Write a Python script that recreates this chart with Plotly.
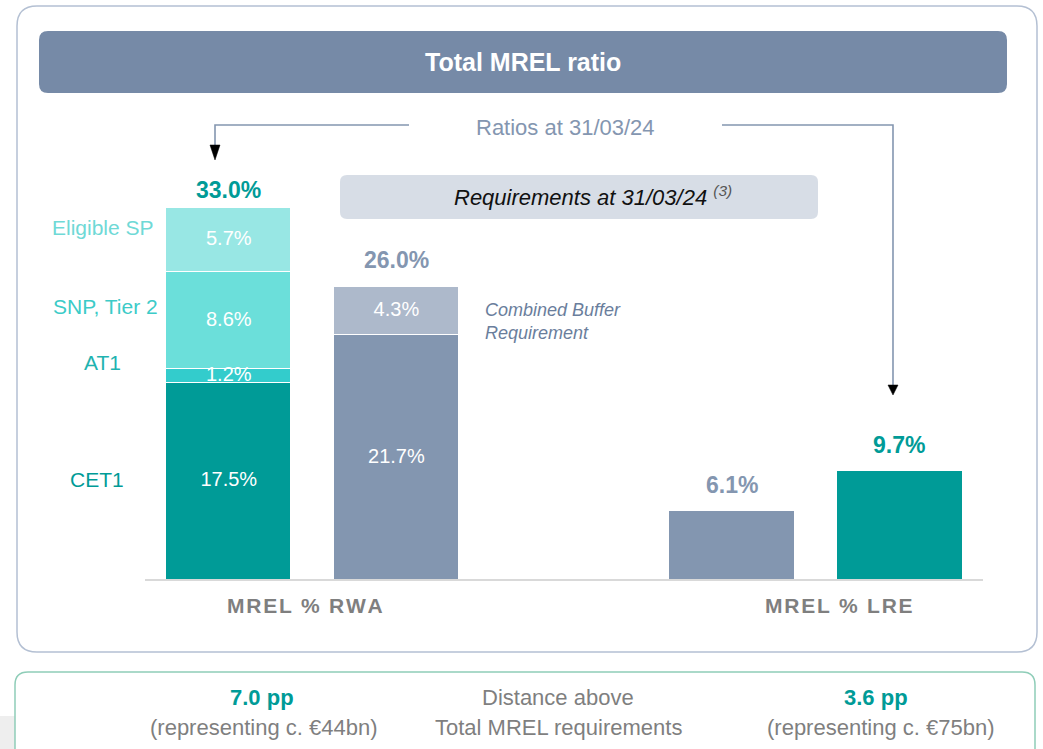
import plotly.graph_objects as go

# ---------------- data ----------------
rwa_components = ["CET1", "AT1", "SNP, Tier 2", "Eligible SP"]
rwa_values = [17.5, 1.2, 8.6, 5.7]
rwa_total = 33.0
req_components = ["Requirement", "Combined Buffer Requirement"]
req_values = [21.7, 4.3]
req_total = 26.0
lre_req = 6.1
lre_ratio = 9.7
bar_positions = [0, 1, 3, 4]
category_labels = ["MREL % RWA", "MREL % LRE"]

W, H = 1043, 749
FONT = "Liberation Sans, Arial, sans-serif"
TEAL = "#009B97"
AT1_C = "#33CCCC"
SNP_C = "#6BDFDA"
SP_C = "#98E7E4"
GREY_BAR = "#8396B0"
BUF_C = "#ADB9CB"
GREY_TXT = "#7F7F7F"
SLATE = "#8496B0"


def px(x):
    return x / W


def py(y):
    return 1 - y / H


def rrect(x0, y0, x1, y1, r):
    pts = [
        ("M", [(x0 + r, y0)]), ("L", [(x1 - r, y0)]), ("Q", [(x1, y0), (x1, y0 + r)]),
        ("L", [(x1, y1 - r)]), ("Q", [(x1, y1), (x1 - r, y1)]), ("L", [(x0 + r, y1)]),
        ("Q", [(x0, y1), (x0, y1 - r)]), ("L", [(x0, y0 + r)]), ("Q", [(x0, y0), (x0 + r, y0)]),
    ]
    s = ""
    for cmd, ps in pts:
        s += cmd + " " + " ".join(f"{px(a):.5f},{py(b):.5f}" for a, b in ps) + " "
    return s + "Z"


def spaced(t):
    return "\u200a".join(list(t))


fig = go.Figure()

bw = 0.744
colors_rwa = [TEAL, AT1_C, SNP_C, SP_C]
for name, v, c in zip(rwa_components, rwa_values, colors_rwa):
    fig.add_trace(go.Bar(x=[bar_positions[0]], y=[v], name=name, width=bw,
                         marker=dict(color=c, line=dict(color="white", width=1.5))))
for name, v, c in zip(req_components, req_values, [GREY_BAR, BUF_C]):
    fig.add_trace(go.Bar(x=[bar_positions[1]], y=[v], name=name, width=bw,
                         marker=dict(color=c, line=dict(color="white", width=1.5))))
fig.add_trace(go.Bar(x=[bar_positions[2]], y=[lre_req], width=bw,
                     marker=dict(color=GREY_BAR, line=dict(width=0))))
fig.add_trace(go.Bar(x=[bar_positions[3]], y=[lre_ratio], width=bw,
                     marker=dict(color=TEAL, line=dict(width=0))))

# segment labels at segment centres
sx, sy, st = [], [], []
cum = 0
for v in rwa_values:
    sx.append(bar_positions[0]); sy.append(cum + v / 2); st.append(f"{v:.1f}%")
    cum += v
cum = 0
for v in req_values:
    sx.append(bar_positions[1]); sy.append(cum + v / 2); st.append(f"{v:.1f}%")
    cum += v
fig.add_trace(go.Scatter(x=sx, y=sy, text=st, mode="text",
                         textfont=dict(family=FONT, size=20, color="white"),
                         hoverinfo="skip"))

ann = []
# totals above bars
for xv, yv, col, shift in [(bar_positions[0], rwa_total, TEAL, 18),
                           (bar_positions[1], req_total, SLATE, 27),
                           (bar_positions[2], lre_req, SLATE, 26),
                           (bar_positions[3], lre_ratio, TEAL, 26)]:
    ann.append(dict(x=xv, y=yv, xref="x", yref="y", text=f"<b>{yv:.1f}%</b>", showarrow=False,
                    yanchor="middle", yshift=shift, font=dict(family=FONT, size=23, color=col)))


def ptext(x, y, text, size, color, xanchor="center", align="center"):
    ann.append(dict(x=px(x), y=py(y), xref="paper", yref="paper", text=text, showarrow=False,
                    xanchor=xanchor, yanchor="middle", align=align,
                    font=dict(family=FONT, size=size, color=color)))


ptext(523, 62, "<b>Total MREL ratio</b>", 25, "white")
ptext(565, 127, "Ratios at 31/03/24", 22, SLATE)
ptext(593, 196, "<i>Requirements at 31/03/24 <span style='color:#555555'><sup>(3)</sup></span></i>", 22, "#111111")
ptext(483, 321, "<i>Combined Buffer<br>Requirement</i>", 18, "#6A7E9C", xanchor="left", align="left")

# side labels
ptext(103, 227, "Eligible SP", 21, "#6FD9D6")
ptext(105, 306, "SNP, Tier 2", 21, "#3CCBC8")
ptext(102, 362, "AT1", 21, "#1FB3B0")
ptext(97, 479, "CET1", 21, TEAL)

# category labels
ptext(305, 605, "<b>" + spaced(category_labels[0]) + "</b>", 21, GREY_TXT)
ptext(839, 605, "<b>" + spaced(category_labels[1]) + "</b>", 21, GREY_TXT)

# bottom box texts
ptext(262, 697, "<b>7.0 pp</b>", 22, TEAL)
ptext(263, 727, "(representing c. €44bn)", 22, GREY_TXT)
ptext(558, 697, "Distance above", 22, GREY_TXT)
ptext(558, 727, "Total MREL requirements", 22, GREY_TXT)
ptext(876, 697, "<b>3.6 pp</b>", 22, TEAL)
ptext(880, 727, "(representing c. €75bn)", 22, GREY_TXT)

shapes = []
# grey patch bottom left
shapes.append(dict(type="rect", xref="paper", yref="paper", x0=0, x1=px(30), y0=0, y1=py(716),
                   fillcolor="#EEEEEE", line=dict(width=0), layer="below"))
# outer box
shapes.append(dict(type="path", xref="paper", yref="paper", path=rrect(17, 6, 1037, 652, 20),
                   fillcolor="white", line=dict(color="#B4C0D3", width=1.5), layer="below"))
# title bar
shapes.append(dict(type="path", xref="paper", yref="paper", path=rrect(39, 31, 1007, 93, 9),
                   fillcolor="#768AA7", line=dict(width=0), layer="below"))
# requirements box
shapes.append(dict(type="path", xref="paper", yref="paper", path=rrect(340, 175, 818, 219, 7),
                   fillcolor="#D7DDE6", line=dict(width=0), layer="below"))
# bottom box
shapes.append(dict(type="path", xref="paper", yref="paper", path=rrect(15, 672, 1035, 790, 13),
                   fillcolor="white", line=dict(color="#8FCDB8", width=1.5), layer="below"))
# baseline
shapes.append(dict(type="line", xref="paper", yref="paper", x0=px(145), x1=px(983), y0=py(580), y1=py(580),
                   line=dict(color="#D9D9D9", width=2)))
# arrows
for pts in [[(409, 125), (215, 125), (215, 147)], [(722, 125), (893, 125), (893, 386)]]:
    path = "M " + " L ".join(f"{px(a):.5f},{py(b):.5f}" for a, b in pts)
    shapes.append(dict(type="path", xref="paper", yref="paper", path=path,
                       line=dict(color=SLATE, width=1.6)))
for tx, ty, hw, hh in [(215, 160, 5, 15), (893, 395, 5, 10)]:
    path = (f"M {px(tx - hw):.5f},{py(ty - hh):.5f} L {px(tx + hw):.5f},{py(ty - hh):.5f} "
            f"L {px(tx):.5f},{py(ty):.5f} Z")
    shapes.append(dict(type="path", xref="paper", yref="paper", path=path,
                       fillcolor="black", line=dict(color="black", width=0.5)))

top_px = 130
yr = (580 - top_px) / 11.27
fig.update_layout(
    width=W, height=H, margin=dict(l=0, r=0, t=0, b=0),
    paper_bgcolor="white", plot_bgcolor="rgba(0,0,0,0)",
    barmode="stack", bargap=0, showlegend=False,
    xaxis=dict(domain=[px(145), px(983)], range=[-0.5, 4.5], visible=False, fixedrange=True),
    yaxis=dict(domain=[py(580), py(top_px)], range=[0, yr], visible=False, fixedrange=True),
    annotations=ann, shapes=shapes,
    font=dict(family=FONT),
)

fig.write_html("out.html", config={"displayModeBar": False},
               post_script="document.body.style.margin='0';document.body.style.padding='0';")
